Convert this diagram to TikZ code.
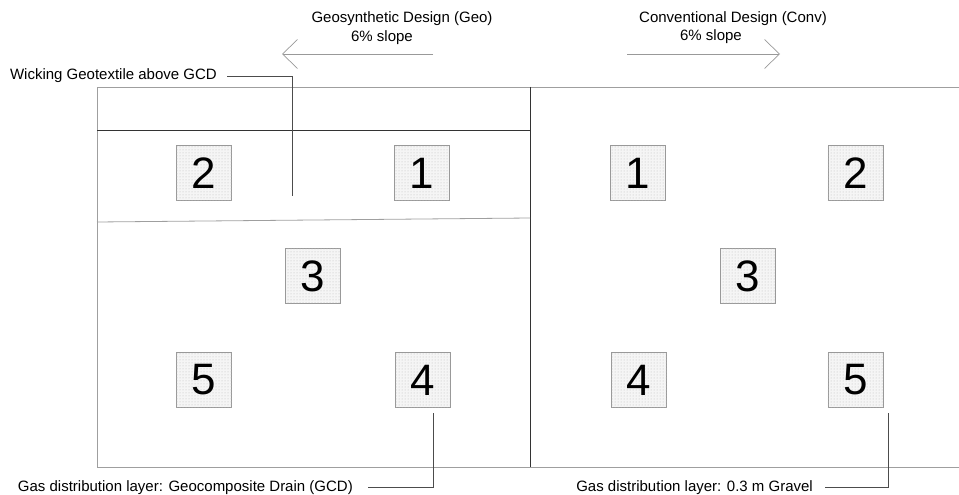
\documentclass[tikz,border=0pt]{standalone}
\usepackage{fontspec}
\setmainfont{Liberation Sans}
\usetikzlibrary{positioning,arrows.meta,patterns}

\begin{document}
\begin{tikzpicture}[x=1pt,y=-1pt,
    cell/.style={draw=gray!80,fill=gray!8,minimum size=55pt,inner sep=0pt,
        font=\fontsize{44}{44}\selectfont,
        postaction={pattern=dots,pattern color=gray!55}},
    txt/.style={inner sep=0pt,font=\fontsize{15}{18}\selectfont},
    frame/.style={draw=gray!75,line width=0.8pt},
    divider/.style={draw=black!80,line width=0.8pt},
    leader/.style={draw=black!70,line width=0.7pt},
    slope/.style={draw=gray!80,line width=0.7pt,-{Straight Barb[length=15pt,width=29pt]}}]
    \useasboundingbox (0,0) rectangle (959,495);

    %frame
    \draw[frame] (959,87) -- (97,87) -- (97,467) -- (959,467);
    \draw[divider] (530,87) -- (530,467);
    \draw[divider] (97,130) -- (530,130);
    \draw[frame] (97,222) -- (530,218);

    %geosynthetic cells
    \node[cell] (geo2) at (204,173) {2};
    \node[cell,right=162pt of geo2] (geo1) {1};
    \node[cell] (geo3) at (313,276) {3};
    \node[cell] (geo5) at (204,380) {5};
    \node[cell,right=163pt of geo5] (geo4) {4};

    %conventional cells
    \node[cell] (conv1) at (638,173) {1};
    \node[cell,right=162pt of conv1] (conv2) {2};
    \node[cell] (conv3) at (748,276) {3};
    \node[cell] (conv4) at (639,380) {4};
    \node[cell,right=161pt of conv4] (conv5) {5};

    %titles
    \node[txt,anchor=base] (geotitle) at (402,23) {Geosynthetic Design (Geo)};
    \node[txt,anchor=base] (geoslope) at (382,41.5) {6\% slope};
    \node[txt,anchor=base] (convtitle) at (733,23) {Conventional Design (Conv)};
    \node[txt,anchor=base] (convslope) at (711,41) {6\% slope};

    %slope arrows
    \coordinate (geotail) at (433,54);
    \coordinate (geohead) at (282,54);
    \coordinate (convtail) at (627,54);
    \coordinate (convhead) at (780,54);
    \draw[slope] (geotail) -- (geohead);
    \draw[slope] (convtail) -- (convhead);

    %leaders
    \node[txt,anchor=base east] (wick) at (217,80) {Wicking Geotextile above GCD};
    \coordinate (wicktip) at (292,196);
    \draw[leader] ([xshift=10pt]wick.east) -| (wicktip);

    \node[txt,anchor=base east] (gcd) at (353,491) {Gas distribution layer: Geocomposite Drain (GCD)};
    \coordinate (gcdtip) at ([xshift=11pt,yshift=-5pt]geo4.south);
    \draw[leader] ([xshift=15pt]gcd.east) -| (gcdtip);

    \node[txt,anchor=base east] (gravel) at (813,491) {Gas distribution layer: 0.3 m Gravel};
    \coordinate (graveltip) at ([xshift=33pt,yshift=-5pt]conv5.south);
    \draw[leader] ([xshift=12pt]gravel.east) -| (graveltip);
\end{tikzpicture}
\end{document}
